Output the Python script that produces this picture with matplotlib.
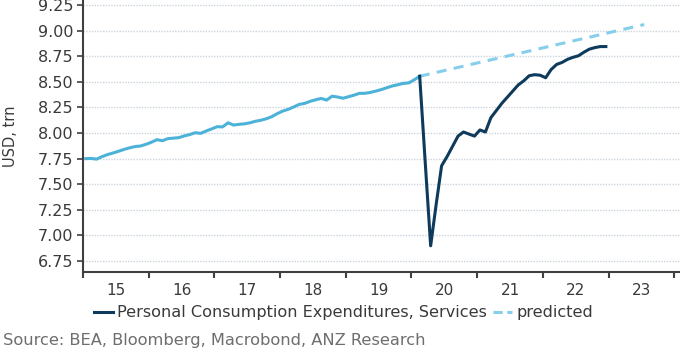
import numpy as np
import matplotlib
matplotlib.use("Agg")
import matplotlib.pyplot as plt
from matplotlib.lines import Line2D

# monthly values, USD trn
actual_pre = [7.750, 7.752, 7.745, 7.770, 7.790, 7.805, 7.822, 7.840, 7.855, 7.868, 7.873, 7.890,  # 2015
              7.910, 7.935, 7.925, 7.945, 7.950, 7.955, 7.972, 7.985, 8.003, 7.997, 8.020, 8.040,  # 2016
              8.062, 8.060, 8.100, 8.078, 8.085, 8.090, 8.100, 8.115, 8.125, 8.140, 8.160, 8.190,  # 2017
              8.215, 8.232, 8.255, 8.280, 8.290, 8.310, 8.325, 8.338, 8.322, 8.360, 8.352, 8.340,  # 2018
              8.355, 8.370, 8.388, 8.388, 8.397, 8.410, 8.425, 8.443, 8.460, 8.472, 8.485, 8.490,  # 2019
              8.520, 8.555]                                                                        # 2020 Jan-Feb
actual_post = [8.555, 7.720, 6.898, 7.300, 7.680, 7.770, 7.870, 7.970, 8.010, 7.990, 7.970,      # 2020 Feb-Dec
               8.030, 8.010, 8.150, 8.220, 8.290, 8.350, 8.410, 8.470, 8.510, 8.560, 8.570, 8.565,  # 2021
               8.540, 8.620, 8.670, 8.690, 8.720, 8.740, 8.755, 8.790, 8.820, 8.835, 8.845, 8.845]  # 2022
pred_x = [2020 + 1.5 / 12, 2023 + 6.5 / 12]
pred_y = [8.555, 9.06]

years = list(range(2015, 2024))
year_labels = [str(y)[2:] for y in years]
yticks = [6.75, 7.00, 7.25, 7.50, 7.75, 8.00, 8.25, 8.50, 8.75, 9.00, 9.25]

x_pre = 2015 + (np.arange(len(actual_pre)) + 0.5) / 12
x_post = 2020 + (np.arange(len(actual_post)) + 1.5) / 12

light = '#4cb2d8'
dark = '#0e3a5c'
dash = '#86cfea'
txt = '#3a3a3a'

plt.rcParams['font.family'] = ['DejaVu Sans']
fig = plt.figure(figsize=(6.8, 3.49), dpi=100)
ax = fig.add_axes([83 / 680, 77 / 349, 597 / 680, 272 / 349])

ax.plot(pred_x, pred_y, color=dash, lw=2.2, dashes=(3.3, 2.4))
ax.plot(x_pre, actual_pre, color=light, lw=2.2, solid_joinstyle='round')
ax.plot(x_post, actual_post, color=dark, lw=2.2, solid_joinstyle='round')

ax.set_xlim(2015, 2024.087)
ax.set_ylim(6.642, 9.30)

ax.set_xticks(years + [2024])
ax.set_xticklabels([])
ax.set_xticks([y + 0.5 for y in years], minor=True)
ax.set_xticklabels(year_labels, minor=True)
ax.tick_params(axis='x', which='major', length=4, width=1.5, color='#404040', direction='out')
ax.tick_params(axis='x', which='minor', length=0, pad=8, labelsize=11, labelcolor=txt)

ax.set_yticks(yticks)
ax.set_yticklabels(['%.2f' % v for v in yticks])
ax.tick_params(axis='y', length=4, width=1.2, color='#404040', labelsize=11.5, labelcolor=txt, pad=3)

ax.yaxis.grid(True, color='#ccd5de', lw=1.0, ls=(0, (1, 1)))
ax.set_axisbelow(True)
for s in ['top', 'right']:
    ax.spines[s].set_visible(False)
for s in ['left', 'bottom']:
    ax.spines[s].set_color('#404040')
    ax.spines[s].set_linewidth(1.5)

ax.set_ylabel('USD, trn', fontsize=10.5, color=txt, labelpad=14)

handles = [Line2D([], [], color=dark, lw=2.2),
           Line2D([], [], color=dash, lw=2.2, dashes=(3, 1.5))]
fig.legend(handles, ['Personal Consumption Expenditures, Services', 'predicted'],
           loc='center left', bbox_to_anchor=(94 / 680, 1 - 313 / 349), ncol=2,
           frameon=False, fontsize=11.6, handlelength=1.2, handletextpad=0.25,
           columnspacing=0.35, labelcolor=txt, borderaxespad=0, borderpad=0)

fig.text(3 / 680, 1 - 340 / 349, 'Source: BEA, Bloomberg, Macrobond, ANZ Research',
         fontsize=11.7, color='#6e6e6e', va='center', ha='left')

fig.savefig('out.png', dpi=100)
